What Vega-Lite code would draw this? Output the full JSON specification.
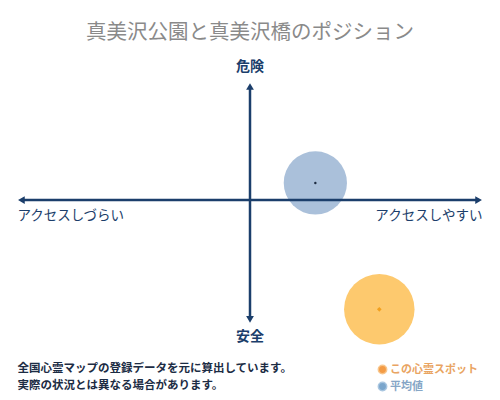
{
  "$schema": "https://vega.github.io/schema/vega-lite/v6.json",
  "description": "Position of the spot vs the average on an access / danger cross chart.",
  "width": 500,
  "height": 350,
  "autosize": {"type": "none"},
  "padding": {"top": 50, "left": 0, "right": 0, "bottom": 0},
  "title": {
    "text": "真美沢公園と真美沢橋のポジション",
    "anchor": "middle",
    "font": "Noto Sans CJK JP",
    "fontSize": 20.5,
    "fontWeight": "normal",
    "color": "#8a8a8a",
    "offset": 7
  },
  "datasets": {
    "spots": [
      {"series": "この心霊スポット", "x": 0.556, "y": -0.93},
      {"series": "平均値", "x": 0.281, "y": 0.145}
    ],
    "axes": [
      {"x": -0.983, "x2": 0.983, "y": 0, "y2": 0},
      {"x": 0, "x2": 0, "y": 0.966, "y2": -1.016}
    ],
    "heads": [
      {"dir": "left", "x": -0.983, "y": 0},
      {"dir": "right", "x": 0.983, "y": 0},
      {"dir": "up", "x": 0, "y": 0.966},
      {"dir": "down", "x": 0, "y": -1.016}
    ],
    "labels": [
      {"role": "pole", "text": "危険", "x": 0, "y": 1.128},
      {"role": "pole", "text": "安全", "x": 0, "y": -1.162},
      {"role": "left", "text": "アクセスしづらい", "x": -1, "y": -0.14},
      {"role": "right", "text": "アクセスしやすい", "x": 1, "y": -0.14},
      {"role": "note", "text": "全国心霊マップの登録データを元に算出しています。", "x": -1, "y": -1.44},
      {"role": "note", "text": "実際の状況とは異なる場合があります。", "x": -1, "y": -1.585}
    ]
  },
  "encoding": {
    "x": {"field": "x", "type": "quantitative", "scale": {"domain": [-1.075, 1.075]}, "axis": null},
    "y": {"field": "y", "type": "quantitative", "scale": {"domain": [-1.702, 1.2766]}, "axis": null}
  },
  "layer": [
    {
      "data": {"name": "spots"},
      "mark": {"type": "point", "shape": "circle", "filled": true, "opacity": 1},
      "encoding": {
        "color": {"condition": {"test": "datum.series === '平均値'", "value": "#aac0da"}, "value": "#fdc96e"},
        "size": {"condition": {"test": "datum.series === '平均値'", "value": 4000}, "value": 4970}
      }
    },
    {
      "data": {"name": "spots"},
      "mark": {"type": "point", "shape": "circle", "filled": true, "size": 0},
      "encoding": {
        "color": {
          "field": "series",
          "type": "nominal",
          "scale": {"domain": ["この心霊スポット", "平均値"], "range": ["#f39b45", "#7ba6cc"]},
          "legend": {
            "title": null,
            "orient": "none",
            "legendX": 377,
            "legendY": 314,
            "symbolType": "circle",
            "symbolSize": 70,
            "symbolOpacity": 1,
            "symbolStrokeWidth": 1.5,
            "symbolStrokeColor": {"expr": "datum.value === '平均値' ? '#a9c6e0' : '#f8c68c'"},
            "labelColor": {"expr": "datum.value === '平均値' ? '#86a6c6' : '#e9a462'"},
            "labelFont": "Noto Sans CJK JP",
            "labelFontSize": 11,
            "labelFontWeight": "bold",
            "labelOffset": 2,
            "rowPadding": 2
          }
        }
      }
    },
    {
      "data": {"name": "axes"},
      "mark": {"type": "rule", "color": "#1b3e6b", "strokeWidth": 2.5},
      "encoding": {
        "x2": {"field": "x2"},
        "y2": {"field": "y2"}
      }
    },
    {
      "data": {"name": "heads"},
      "mark": {"type": "point", "filled": true, "opacity": 1, "color": "#1b3e6b", "size": 60},
      "encoding": {
        "shape": {
          "field": "dir",
          "type": "nominal",
          "scale": {
            "domain": ["left", "right", "up", "down"],
            "range": ["triangle-left", "triangle-right", "triangle-up", "triangle-down"]
          },
          "legend": null
        }
      }
    },
    {
      "data": {"name": "spots"},
      "mark": {"type": "point", "filled": true, "opacity": 1},
      "encoding": {
        "shape": {"condition": {"test": "datum.series === '平均値'", "value": "circle"}, "value": "diamond"},
        "size": {"condition": {"test": "datum.series === '平均値'", "value": 6}, "value": 22},
        "color": {"condition": {"test": "datum.series === '平均値'", "value": "#1c2a40"}, "value": "#f2a01e"}
      }
    },
    {
      "data": {"name": "labels"},
      "transform": [{"filter": "datum.role === 'pole'"}],
      "mark": {"type": "text", "align": "center", "baseline": "middle", "font": "Noto Sans CJK JP", "fontSize": 14, "fontWeight": "bold", "color": "#1b3e6b"},
      "encoding": {"text": {"field": "text"}}
    },
    {
      "data": {"name": "labels"},
      "transform": [{"filter": "datum.role === 'left'"}],
      "mark": {"type": "text", "align": "left", "baseline": "middle", "font": "Noto Sans CJK JP", "fontSize": 13.5, "color": "#1b3e6b"},
      "encoding": {"text": {"field": "text"}}
    },
    {
      "data": {"name": "labels"},
      "transform": [{"filter": "datum.role === 'right'"}],
      "mark": {"type": "text", "align": "right", "baseline": "middle", "font": "Noto Sans CJK JP", "fontSize": 13.5, "color": "#1b3e6b"},
      "encoding": {"text": {"field": "text"}}
    },
    {
      "data": {"name": "labels"},
      "transform": [{"filter": "datum.role === 'note'"}],
      "mark": {"type": "text", "align": "left", "baseline": "middle", "font": "Noto Sans CJK JP", "fontSize": 11.5, "fontWeight": "bold", "color": "#1c2c44"},
      "encoding": {"text": {"field": "text"}}
    }
  ],
  "config": {
    "view": {"stroke": null}
  }
}
